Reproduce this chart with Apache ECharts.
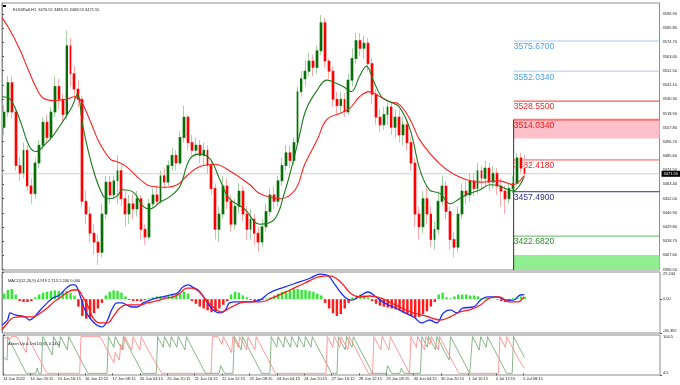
<!DOCTYPE html>
<html><head><meta charset="utf-8">
<script src="https://cdn.jsdelivr.net/npm/echarts@6/dist/echarts.min.js"></script>
<style>html,body{margin:0;padding:0;background:#fff}#c{width:680px;height:385px}</style>
</head><body><div id="c"></div><script>
const symbolTitle = 'EU50Roll,H1  3476.55 3486.55 3468.55 3471.55';
const macdTitle = 'MACD(12,26,9) 4.919 2.713 2.206 0.000';
const aroonTitle = 'Aroon Up & Dn(14) 65.0 14.0';
const timeLabels = ['14 Jun 2022','14 Jun 20:15','15 Jun 16:15','16 Jun 12:15','17 Jun 08:15','20 Jun 04:15','20 Jun 20:15','21 Jun 16:15','22 Jun 12:15','23 Jun 08:15','24 Jun 04:15','24 Jun 20:15','27 Jun 16:15','28 Jun 12:15','29 Jun 08:15','30 Jun 04:15','30 Jun 20:15','1 Jul 16:15','4 Jul 12:15','5 Jul 08:15'];
const priceTicks = [3596.90,3585.80,3574.70,3563.60,3552.50,3541.10,3530.30,3518.90,3507.80,3496.70,3485.60,3474.50,3463.40,3452.00,3440.90,3429.80,3418.70,3407.60,3396.50];
const macdMax = 29.244, macdMin = -36.392;
const macdTickText = {max:'29.244', zero:'0.00', min:'-36.392'};
const aroonMax = 104.5, aroonMin = -4.5;
const aroonTickText = {max:'104.5', min:'4.5'};
// candles [open, close, low, high], each covering 20/7 hours
const candles = [
[3508,3520,3502,3525],[3520,3543,3516,3548],[3543,3520,3515,3548],[3520,3478,3474,3524],[3478,3472,3466,3485],
[3472,3490,3468,3496],[3490,3462,3458,3494],[3462,3456,3448,3468],[3456,3480,3452,3484],[3480,3494,3476,3498],
[3494,3512,3490,3516],[3512,3500,3496,3518],[3500,3520,3498,3524],[3520,3540,3516,3548],[3540,3530,3522,3546],
[3530,3518,3512,3534],[3518,3572,3514,3584],[3572,3550,3540,3578],[3550,3538,3530,3556],[3538,3530,3524,3545],
[3530,3450,3446,3533],[3450,3440,3432,3458],[3440,3425,3418,3446],[3425,3418,3408,3432],[3418,3410,3400,3424],
[3410,3440,3406,3448],[3440,3465,3436,3470],[3465,3455,3448,3470],[3455,3466,3452,3470],[3466,3474,3448,3486],
[3474,3452,3446,3478],[3452,3440,3430,3458],[3440,3448,3432,3455],[3448,3444,3436,3456],[3444,3452,3438,3458],
[3452,3428,3420,3455],[3428,3422,3416,3432],[3422,3448,3420,3452],[3448,3455,3444,3460],[3455,3450,3446,3462],
[3450,3470,3448,3474],[3470,3465,3460,3476],[3465,3478,3462,3482],[3478,3486,3474,3492],[3486,3480,3474,3490],
[3480,3500,3478,3505],[3500,3516,3496,3525],[3516,3496,3490,3518],[3496,3490,3486,3502],[3490,3494,3485,3500],
[3494,3486,3480,3498],[3486,3490,3478,3496],[3490,3478,3472,3494],[3478,3460,3455,3482],[3460,3428,3420,3464],
[3428,3440,3418,3446],[3440,3462,3436,3470],[3462,3450,3444,3468],[3450,3432,3426,3455],[3432,3446,3428,3452],
[3446,3458,3440,3464],[3458,3440,3434,3462],[3440,3428,3420,3446],[3428,3436,3420,3444],[3436,3425,3416,3440],
[3425,3418,3410,3430],[3418,3430,3414,3436],[3430,3442,3426,3448],[3442,3455,3438,3460],[3455,3450,3444,3462],
[3450,3466,3446,3470],[3466,3478,3462,3484],[3478,3488,3474,3494],[3488,3482,3476,3494],[3482,3496,3478,3500],
[3496,3536,3494,3540],[3536,3546,3532,3552],[3546,3552,3540,3560],[3552,3560,3548,3566],[3560,3555,3548,3565],
[3555,3568,3550,3572],[3568,3590,3565,3596],[3590,3560,3555,3594],[3560,3552,3546,3562],[3552,3530,3524,3556],
[3530,3525,3518,3536],[3525,3530,3520,3536],[3530,3520,3516,3535],[3520,3545,3518,3550],[3545,3562,3540,3570],
[3562,3576,3558,3582],[3576,3570,3564,3582],[3570,3574,3562,3580],[3574,3558,3552,3578],[3558,3534,3526,3562],
[3534,3516,3510,3538],[3516,3510,3504,3522],[3510,3518,3506,3524],[3518,3524,3510,3528],[3524,3508,3502,3528],
[3508,3516,3500,3522],[3516,3502,3496,3522],[3502,3510,3494,3516],[3510,3496,3490,3514],[3496,3480,3474,3500],
[3480,3440,3430,3484],[3440,3430,3420,3446],[3430,3452,3425,3458],[3452,3440,3432,3462],[3440,3420,3414,3446],
[3420,3428,3412,3434],[3428,3450,3424,3458],[3450,3462,3446,3470],[3462,3442,3436,3466],[3442,3420,3412,3446],
[3420,3414,3406,3426],[3414,3440,3410,3446],[3440,3458,3436,3464],[3458,3455,3448,3466],[3455,3466,3450,3472],
[3466,3460,3454,3472],[3460,3474,3456,3480],[3474,3468,3460,3478],[3468,3476,3462,3482],[3476,3465,3458,3480],
[3465,3472,3460,3478],[3472,3462,3455,3476],[3462,3458,3446,3468],[3458,3452,3440,3462],[3452,3460,3448,3464],
[3460,3464,3456,3470],[3464,3484,3462,3488],[3484,3476,3472,3488],[3476,3471.55,3468.55,3486.55]
];
const lastPrice = 3471.55;
// moving averages [hour, price]
const maSlow = [[0,3594],[6,3584],[13,3569],[20,3551],[25,3539],[30,3531],[38,3529],[47,3530],[53,3532],[57,3530],[64,3514],[71,3496],[79,3483],[84,3481],[91,3477],[101,3467],[108,3462],[120,3461],[128,3463],[135,3470],[144,3477],[155,3479],[166,3474],[181,3463],[188,3456],[203,3452],[214,3459],[221,3479],[230,3498],[237,3514],[247,3519],[254,3523],[261,3532],[268,3536],[276,3532],[283,3528],[290,3526],[298,3514],[305,3498],[320,3479],[334,3469],[349,3465],[363,3466],[373,3463],[381,3470]];
const maFast = [[0,3532],[6,3530],[13,3514],[20,3493],[25,3489],[30,3493],[37,3501],[44,3512],[51,3524],[55,3534],[59,3509],[66,3477],[74,3454],[79,3452],[84,3454],[88,3459],[96,3457],[103,3446],[108,3444],[115,3449],[123,3454],[130,3462],[137,3483],[144,3487],[152,3483],[159,3467],[166,3452],[177,3444],[188,3432],[199,3436],[206,3456],[212,3479],[217,3501],[222,3522],[230,3537],[237,3545],[241,3544],[249,3540],[255,3536],[261,3548],[266,3556],[271,3545],[277,3532],[283,3528],[290,3524],[298,3506],[305,3475],[312,3459],[320,3456],[327,3448],[334,3452],[341,3456],[349,3459],[356,3463],[363,3462],[373,3458],[381,3469]];
// horizontal levels drawn from hour levelStart
const levelStart = 373.5;
const levels = [
  {v:3575.67, text:'3575.6700', line:'#a6cdf2', color:'#4a9ff0', w:1},
  {v:3552.034, text:'3552.0340', line:'#a6cdf2', color:'#4a9ff0', w:1},
  {v:3528.55, text:'3528.5500', line:'#ff3030', color:'#ff2020', w:1},
  {v:3514.034, text:'3514.0340', line:'#ff7070', color:'#ff1010', w:2},
  {v:3482.418, text:'3482.4180', line:'#ff5050', color:'#ff2020', w:1},
  {v:3457.49, text:'3457.4900', line:'#30308a', color:'#303090', w:1},
  {v:3422.682, text:'3422.6820', line:'#5cb85c', color:'#2e8b2e', w:1}
];
const zones = [
  {from:3514.034, to:3499.2, color:'#ffc0cb'},
  {from:3407.8, to:3396.1, color:'#90ee90'}
];
// MACD
const macdHist = [6,10,11,5,-2,-3,-3,-2,2,5,7,8,9,9.5,9,8.5,9,7,4,-8,-18,-21,-20,-15,-10,-4,4,8,9.5,9,7,3,-1,-2,-2,-2.5,-1,1,2,3,3,3.5,3.5,4,5,6,8,6,-2,-5,-8,-10,-12,-14,-13,-10,-6,-2,5,8,7,4,2,-1,-2,-2,-1,1,2,4,6,8,9,10,11,11,10,10,9,8,6,4,-4,-10,-15,-18,-16,-10,-4,2,4,5,4,2,-2,-5,-7,-8,-9,-10,-11,-12,-14,-16,-18,-20,-19,-16,-13,-8,-3,5,7,2,1,3,5,5,5,4,4,3,1,1,0.5,0.5,-0.5,-2,-3,-2,1,2,3,2.2];
const macdLine = [[0,-27.8],[4,-22.4],[6,-14.8],[9.5,-17],[17,-19],[20,-22.4],[23,-20],[28,-11.6],[33,-4],[37,1.3],[42,4.5],[47,12],[51,15.3],[53,15.3],[55,12],[58,-1],[60.5,-11.6],[64,-20],[69,-27.8],[73,-29.9],[77,-22.4],[80,-11.6],[84,-4],[87.5,-4],[91,-6.2],[95,-8.4],[98.5,-8.4],[103,-4],[108,-1],[113,1.3],[117,2.4],[123,4.5],[128,6.7],[132,13],[136,15.3],[139,13],[143,9.9],[147,2.4],[150,-4],[154,-11.6],[159,-14.8],[163,-11.6],[166,-4],[171,-3],[180,-3],[188,-1],[195,6.7],[206,13],[217,18.5],[225,22.8],[232,27],[238,25],[243,15.3],[250,2.4],[255,-1],[261,3.4],[267,7.7],[272,3.4],[279,-4],[287,-9.5],[294,-14.8],[301,-20],[306,-25.6],[312,-22.4],[317,-25.6],[322,-14.8],[327,-11.6],[332,-14.8],[336,-9.5],[344,-8.4],[349,-1],[354,2.4],[361,2.4],[368,-1],[373,-1],[378,4.5],[381,4.9]];
const signalLine = [[0,-33],[4,-25.6],[8,-20],[13,-19],[23,-19],[28,-14.8],[33,-9.5],[37,-4],[42,1.3],[47,6.7],[52,9.9],[55,9.9],[59,2.4],[63,-8.4],[66,-19],[71,-25.6],[77,-25.6],[81,-19],[86,-9.5],[91,-6.2],[101,-6.2],[106,-4],[110,-3],[115,-1],[120,1.3],[125,2.4],[130,6.7],[135,12],[139,12],[144,7.7],[149,-1],[154,-8.4],[160,-13.8],[166,-9.5],[174,-4],[180,-3],[188,-3],[199,2.4],[210,9.9],[221,17.4],[231,23.9],[239,25],[247,18.5],[254,6.7],[261,2.4],[268,3.4],[276,1.3],[287,-6.2],[298,-13.8],[309,-18],[320,-22.4],[327,-19],[334,-13.8],[341,-11.6],[349,-6.2],[356,1.3],[363,2.4],[370,-3],[376,-3],[381,2.7]];
// Aroon [hour, value]
const aroonUp = [[0,45],[3,36],[3.5,100],[17,0],[24,0],[25,14],[26,0],[28,0],[29,100],[36,50],[37,100],[41,71],[42,100],[47,64],[48,100],[53,64],[62,0],[76,0],[77,100],[81,71],[82,100],[87,64],[88,100],[96,43],[102,0],[112,0],[113,100],[117,71],[118,100],[122,71],[123,100],[127,71],[128,100],[133,64],[134,100],[138,71],[148,0],[158,0],[159,21],[161,7],[162,0],[168,0],[169,100],[174,64],[175,100],[181,57],[189,0],[195,0],[196,100],[200,71],[201,100],[205,71],[206,100],[210,71],[211,100],[215,71],[216,100],[220,71],[221,100],[225,71],[226,100],[232,57],[240,0],[244,0],[245,100],[250,64],[251,100],[255,71],[256,100],[261,64],[270,0],[280,0],[281,21],[284,0],[290,0],[291,14],[293,0],[305,0],[306,100],[310,71],[311,100],[316,64],[317,100],[322,64],[326,36],[327,100],[333,57],[341,0],[342,0],[343,100],[348,64],[349,100],[353,71],[354,100],[368,0],[372,0],[373,100],[381,43]];
const aroonDn = [[0,100],[5,93],[6,100],[10,100],[17,57],[18,100],[22,71],[28,29],[32,0],[56,0],[57,100],[71,100],[79,43],[81,29],[82,57],[85,36],[86,79],[88,64],[89,100],[94,64],[95,100],[100,64],[101,100],[108,50],[116,0],[152,0],[153,100],[157,100],[160,79],[161,100],[167,57],[168,100],[172,71],[173,100],[178,64],[179,100],[184,64],[185,100],[193,43],[199,0],[236,0],[237,100],[241,71],[242,100],[246,71],[247,100],[252,64],[253,100],[260,50],[267,0],[270,0],[271,100],[276,64],[277,100],[282,64],[283,100],[290,50],[297,0],[298,100],[302,71],[303,100],[308,64],[309,100],[312,79],[313,100],[318,64],[319,100],[330,21],[333,0],[362,0],[363,100],[367,71],[368,100],[377,36],[381,14]];

const SLOTS = 168, HOURS = 480;
const FONT = 'Liberation Sans';
const slotCats = Array.from({length: SLOTS}, (_, i) => String(i));
const labelHours = timeLabels.map((_, k) => k * 20);
const small = {fontSize: 4, color: '#222', fontFamily: FONT};

const chart = echarts.init(document.getElementById('c'), null, {renderer: 'canvas'});
const series = [];
series.push({type:'candlestick', xAxisIndex:0, yAxisIndex:0, data: candles, barWidth:'85%', z:6,
  itemStyle:{color:'#c2e3c2', color0:'#ffc8c8', borderColor:'#a3d1a3', borderColor0:'#ffaaaa', borderWidth:1}});
series.push({type:'candlestick', xAxisIndex:0, yAxisIndex:0, barWidth:'36%', z:6,
  data: candles.map(c => [c[0], c[1], Math.min(c[0], c[1]), Math.max(c[0], c[1])]),
  itemStyle:{color:'#0b6b0b', color0:'#ff0000', borderColor:'#0b6b0b', borderColor0:'#ff0000', borderWidth:1}});
series.push({type:'line', xAxisIndex:1, yAxisIndex:0, data:[[0,lastPrice],[HOURS,lastPrice]], symbol:'none',
  lineStyle:{color:'#cfcfcf', width:1}, z:1,
  endLabel:{show:true, formatter: lastPrice.toFixed(2), backgroundColor:'#000', color:'#fff', fontSize:4, fontFamily:FONT, padding:[1,2], distance:2},
  markArea:{silent:true, data: zones.map(z => [{coord:[levelStart, z.from], itemStyle:{color:z.color, opacity:1}}, {coord:[HOURS, z.to]}])}
});
series.push({type:'line', xAxisIndex:1, yAxisIndex:0, data: maSlow, smooth:0.4, symbol:'none', lineStyle:{color:'#ff2020', width:1.1}, z:8});
series.push({type:'line', xAxisIndex:1, yAxisIndex:0, data: maFast, smooth:0.4, symbol:'none', lineStyle:{color:'#1a7a1a', width:1.1}, z:8});
levels.forEach(l => {
  series.push({type:'line', xAxisIndex:1, yAxisIndex:0, symbol:'circle', symbolSize:1, showSymbol:true, z:3,
    itemStyle:{color:'rgba(0,0,0,0)', borderWidth:0},
    lineStyle:{color:l.line, width:l.w},
    data:[{value:[levelStart, l.v], label:{show:true, position:'bottom', align:'left', distance:1, formatter:l.text, color:l.color, fontSize:8.6, fontFamily:FONT}}, [HOURS, l.v]]});
});
series.push({type:'line', xAxisIndex:1, yAxisIndex:0, symbol:'none', z:4, data:[[levelStart, 3514.034],[levelStart, zones[1].to]], lineStyle:{color:'#333', width:1}});
// MACD
series.push({type:'bar', xAxisIndex:2, yAxisIndex:1, barWidth:'62%',
  data: macdHist.map(v => ({value:v, itemStyle:{color: v >= 0 ? '#33e833' : '#ff1a1a'}}))});
series.push({type:'line', xAxisIndex:3, yAxisIndex:1, data: macdLine, smooth:0.4, symbol:'none', lineStyle:{color:'#1a2cff', width:1.3}});
series.push({type:'line', xAxisIndex:3, yAxisIndex:1, data: signalLine, smooth:0.4, symbol:'none', lineStyle:{color:'#ff1a1a', width:1.3}});
// Aroon
series.push({type:'line', xAxisIndex:4, yAxisIndex:4, data: aroonUp, symbol:'none', lineStyle:{color:'#6aa66a', width:0.8}});
series.push({type:'line', xAxisIndex:4, yAxisIndex:4, data: aroonDn, symbol:'none', lineStyle:{color:'#ff8080', width:0.8}});

const hiddenX = (type, grid) => ({type, gridIndex:grid, show:false,
  ...(type === 'category' ? {data: slotCats, boundaryGap:true} : {min:0, max:HOURS})});
const gridBox = {show:true, borderColor:'#8c8c8c', borderWidth:1, left:2, width:658};
const sideAxis = (grid, min, max, vals, text, vAlign, showLine) => ({
  type:'value', gridIndex:grid, position:'right', min, max,
  axisLine:{show:showLine, lineStyle:{color:'#8c8c8c'}}, splitLine:{show:false},
  axisTick:{show:true, customValues: vals, length:2, lineStyle:{color:'#555'}},
  axisLabel:{customValues: vals, formatter: text, margin:3, verticalAlign:vAlign, ...small}
});

chart.setOption({
  animation:false,
  backgroundColor:'#fff',
  textStyle:{fontFamily:FONT},
  title:[
    {text:symbolTitle, left:8, top:3, textStyle:{...small, fontWeight:'normal'}},
    {text:macdTitle, left:3, top:274, textStyle:{...small, fontWeight:'normal'}},
    {text:aroonTitle, left:3, top:337, textStyle:{...small, fontWeight:'normal'}}
  ],
  graphic:[{type:'rect', shape:{x:3, y:5, width:3, height:2}, style:{fill:'#000'}}],
  grid:[
    {...gridBox, top:3, height:267},
    {...gridBox, top:272, height:61},
    {...gridBox, top:335, height:40}
  ],
  xAxis:[
    hiddenX('category', 0), hiddenX('value', 0),
    hiddenX('category', 1), hiddenX('value', 1),
    {type:'value', gridIndex:2, min:0, max:HOURS,
      axisLine:{show:false}, splitLine:{show:false},
      axisTick:{show:true, customValues: labelHours, length:2, lineStyle:{color:'#555'}},
      axisLabel:{customValues: labelHours, formatter: v => timeLabels[Math.round(v / 20)] || '', align:'left', margin:2, ...small}}
  ],
  yAxis:[
    sideAxis(0, 3396.1, 3605.5, priceTicks, v => v.toFixed(2), 'middle', true),
    sideAxis(1, macdMin, macdMax, [macdMax], () => macdTickText.max, 'top', true),
    sideAxis(1, macdMin, macdMax, [0], () => macdTickText.zero, 'middle', false),
    sideAxis(1, macdMin, macdMax, [macdMin], () => macdTickText.min, 'bottom', false),
    sideAxis(2, aroonMin, aroonMax, [aroonMax], () => aroonTickText.max, 'top', true),
    sideAxis(2, aroonMin, aroonMax, [aroonMin], () => aroonTickText.min, 'bottom', false)
  ],
  series
});
</script></body></html>
